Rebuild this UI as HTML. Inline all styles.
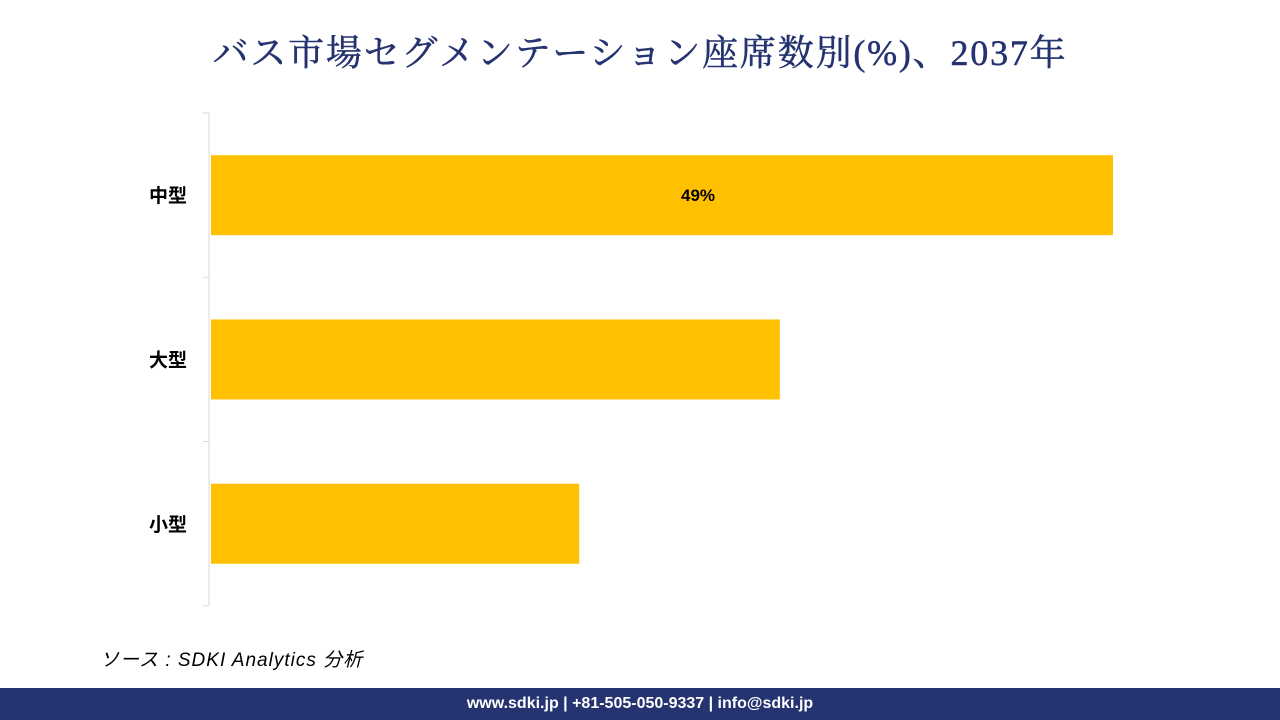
<!DOCTYPE html>
<html><head><meta charset="utf-8"><style>
body{margin:0;width:1280px;height:720px;background:#fff;position:relative;overflow:hidden;font-family:"Liberation Sans","Noto Sans CJK JP",sans-serif}
#title{position:absolute;top:25px;left:0;width:1280px;text-align:center;font-family:"Liberation Serif","Noto Serif CJK SC",serif;font-size:36px;color:#253370;letter-spacing:1.8px;-webkit-text-stroke:0.5px #253370}
#source{position:absolute;left:100px;top:645px;font-style:italic;font-size:19px;color:#000;letter-spacing:1px}
#footer{position:absolute;left:0;top:688px;width:1280px;height:32px;background:#253370;color:#fff;font-weight:bold;font-size:16px;text-align:center;line-height:32px}
svg{position:absolute;left:0;top:0}
</style></head><body>
<div id="title">バス市場セグメンテーション座席数別(%)、2037年</div>
<svg id="chart" width="1280" height="720"></svg>
<div id="source">ソース : SDKI Analytics 分析</div>
<div id="footer">www.sdki.jp | +81-505-050-9337 | info@sdki.jp</div>
<script>
const categories=["中型","大型","小型"];
const values=[49,30.9,20];
const labels=["49%","",""];
const NS="http://www.w3.org/2000/svg";
const svg=document.getElementById('chart');
const x0=211,pxPer=902/49,top0=113,band=164.3,barH=80;
function xs(v){return x0+v*pxPer;}
function yb(i){return top0+i*band;}
function mk(t,a){const e=document.createElementNS(NS,t);for(const k in a)e.setAttribute(k,a[k]);svg.appendChild(e);return e;}
const ax=mk('line',{x1:209,x2:209,y1:top0,y2:top0+band*3,stroke:'#d9d9d9','stroke-width':1});


for(let i=0;i<=3;i++){const t=mk('line',{x1:203,x2:209,y1:yb(i),y2:yb(i),stroke:'#d9d9d9'});

}
categories.forEach((c,i)=>{
const y=yb(i)+(band-barH)/2;
const r=mk('rect',{x:x0,y:y,width:xs(values[i])-x0,height:barH,fill:'#ffc000'});


const t=mk('text',{x:187,y:y+barH/2+7,'text-anchor':'end','font-size':19,'font-weight':'bold',fill:'#000'});
t.textContent=c;


if(labels[i]){const v=mk('text',{x:(x0+xs(values[i]))/2+36,y:y+barH/2+6,'text-anchor':'middle','font-size':17,'font-weight':'bold',fill:'#000'});
v.textContent=labels[i];

}
});
</script>
</body></html>
